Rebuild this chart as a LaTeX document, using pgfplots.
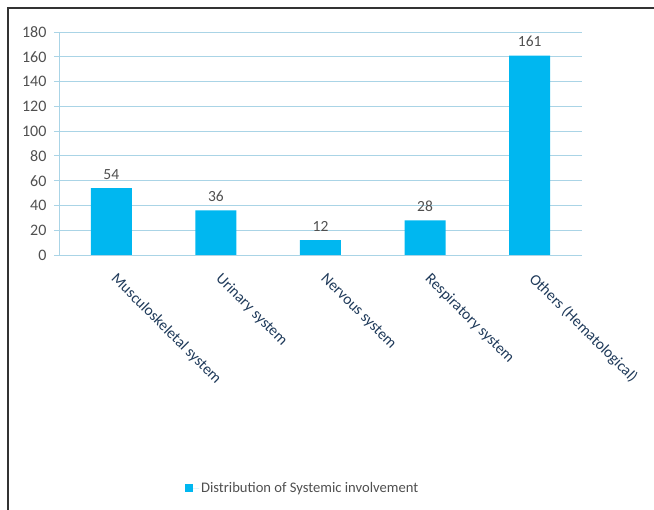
\documentclass[border=0pt]{standalone}
\usepackage{pgfplots}
\pgfplotsset{compat=1.18}
\usepackage{fontspec}
\setmainfont{Carlito}
\definecolor{barc}{RGB}{0,183,240}
\definecolor{gridc}{RGB}{170,212,230}
\definecolor{tickc}{RGB}{80,80,80}
\definecolor{xlabc}{RGB}{31,58,90}
\begin{document}
\begin{tikzpicture}[x=1pt,y=1pt]
\path[use as bounding box] (0,0) rectangle (654,510);
\draw[line width=1.2pt, black!80] (8,0) -- (8,502) -- (654,502);
\begin{axis}[
  at={(59pt,255pt)}, anchor=south west,
  scale only axis, width=523pt, height=223pt,
  ymin=0, ymax=180, ytick={0,20,...,180},
  xmin=-0.5, xmax=4.5,
  xtick={0,1,2,3,4},
  xticklabels={Musculoskeletal system,Urinary system,Nervous system,Respiratory system,Others (Hematological)},
  extra x ticks={-0.5,0.5,1.5,2.5,3.5,4.5},
  extra x tick labels={},
  extra x tick style={major tick length=5pt, tick style={gridc, line width=0.8pt}, grid=none, xticklabel=\empty},
  major x tick style={draw=none},
  tick align=outside,
  ymajorgrids, grid style={gridc, line width=0.8pt},
  axis line style={gridc, line width=0.8pt},
  axis x line*=bottom, axis y line*=left,
  ytick style={gridc, line width=0.8pt}, major tick length=5pt,
  yticklabel style={font=\fontsize{16}{16}\selectfont, text=tickc, xshift=-4pt},
  /pgf/number format/assume math mode=true,
  xticklabel style={font=\fontsize{15.5}{16}\selectfont, text=xlabc, xshift=7pt, yshift=-7pt, rotate=-45, anchor=north west},
  ybar, bar width=41pt,
  nodes near coords,
  nodes near coords style={font=\fontsize{15.5}{16}\selectfont, text=tickc, yshift=5pt},
  legend style={at={(0.235,-1.045)}, anchor=west, draw=none, font=\fontsize{14.6}{15}\selectfont, text=tickc},
  legend image code/.code={\fill[barc] (0pt,-4pt) rectangle (8pt,4pt); \path (0pt,0pt) -- (14pt,0pt);},
]
\addplot[fill=barc, draw=none] coordinates {(0,54) (1,36) (2,12) (3,28) (4,161)};
\addlegendentry{Distribution of Systemic involvement}
\end{axis}
\end{tikzpicture}
\end{document}
